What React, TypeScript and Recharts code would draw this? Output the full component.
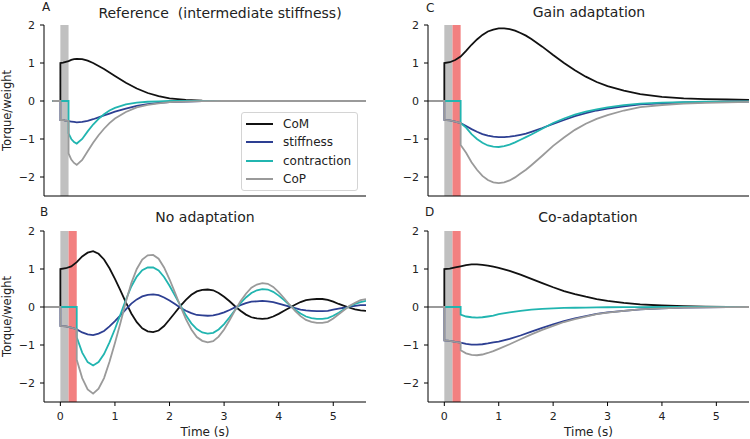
import React from "react";
import { Legend, Line, LineChart, ReferenceArea, XAxis, YAxis } from "recharts";

// time grids (duplicate times = vertical steps)
const tA = [-0.15, 0, 0, 0.05, 0.1, 0.15, 0.15, 0.2, 0.25, 0.3, 0.4, 0.5, 0.6, 0.7, 0.8, 0.9, 1.0, 1.2, 1.4, 1.6, 1.8, 2.0, 2.3, 2.6, 3.0, 4.0, 5.6];
const comA = [0, 0, 1.0, 1.01, 1.03, 1.05, 1.05, 1.08, 1.1, 1.11, 1.1, 1.06, 1.0, 0.92, 0.84, 0.75, 0.66, 0.48, 0.33, 0.21, 0.13, 0.07, 0.03, 0.01, 0, 0, 0];
const stiffA = [0, 0, -0.5, -0.5, -0.52, -0.53, -0.53, -0.54, -0.55, -0.56, -0.55, -0.52, -0.48, -0.43, -0.38, -0.33, -0.28, -0.2, -0.13, -0.08, -0.05, -0.03, -0.015, -0.005, 0, 0, 0];
const contrA = [0, 0, 0, 0, 0, 0, -0.85, -1.0, -1.08, -1.12, -1.0, -0.8, -0.62, -0.47, -0.35, -0.25, -0.18, -0.09, -0.04, -0.02, -0.01, 0, 0, 0, 0, 0, 0];
const copA = [0, 0, -0.5, -0.5, -0.52, -0.53, -1.38, -1.54, -1.63, -1.68, -1.55, -1.32, -1.1, -0.9, -0.73, -0.58, -0.46, -0.29, -0.17, -0.1, -0.06, -0.03, -0.015, -0.005, 0, 0, 0];

const tB = [-0.3, 0, 0, 0.1, 0.2, 0.3, 0.3, 0.4, 0.5, 0.6, 0.7, 0.8, 0.9, 1.0, 1.1, 1.2, 1.3, 1.4, 1.5, 1.6, 1.7, 1.8, 1.9, 2.0, 2.1, 2.2, 2.3, 2.4, 2.5, 2.6, 2.7, 2.8, 2.9, 3.0, 3.1, 3.2, 3.3, 3.4, 3.5, 3.6, 3.7, 3.8, 3.9, 4.0, 4.1, 4.2, 4.3, 4.4, 4.5, 4.6, 4.7, 4.8, 4.9, 5.0, 5.1, 5.2, 5.3, 5.4, 5.5, 5.6];
const comB = [0, 0, 1.0, 1.02, 1.07, 1.18, 1.18, 1.33, 1.43, 1.47, 1.4, 1.25, 1.02, 0.74, 0.44, 0.12, -0.17, -0.4, -0.56, -0.64, -0.66, -0.62, -0.5, -0.33, -0.15, 0.03, 0.19, 0.32, 0.41, 0.45, 0.46, 0.44, 0.37, 0.27, 0.15, 0.02, -0.1, -0.2, -0.27, -0.3, -0.31, -0.3, -0.25, -0.18, -0.1, -0.02, 0.06, 0.13, 0.18, 0.2, 0.21, 0.21, 0.19, 0.14, 0.08, 0.03, -0.02, -0.06, -0.09, -0.1];
const stiffB = [0, 0, -0.5, -0.51, -0.54, -0.59, -0.59, -0.67, -0.72, -0.74, -0.7, -0.63, -0.51, -0.37, -0.22, -0.06, 0.09, 0.2, 0.28, 0.32, 0.33, 0.31, 0.25, 0.17, 0.08, -0.02, -0.1, -0.16, -0.21, -0.22, -0.23, -0.22, -0.19, -0.14, -0.08, -0.01, 0.05, 0.1, 0.14, 0.15, 0.16, 0.15, 0.13, 0.09, 0.05, 0.01, -0.03, -0.07, -0.09, -0.1, -0.11, -0.11, -0.1, -0.07, -0.04, -0.02, 0.01, 0.03, 0.05, 0.05];
const contrB = [0, 0, 0, 0, 0, 0, -0.8, -1.2, -1.45, -1.54, -1.45, -1.24, -0.93, -0.58, -0.2, 0.19, 0.54, 0.8, 0.97, 1.04, 1.04, 0.96, 0.79, 0.56, 0.3, 0.04, -0.22, -0.43, -0.58, -0.67, -0.7, -0.68, -0.59, -0.45, -0.27, -0.08, 0.1, 0.25, 0.37, 0.44, 0.47, 0.46, 0.4, 0.3, 0.18, 0.05, -0.07, -0.17, -0.25, -0.29, -0.31, -0.31, -0.29, -0.23, -0.15, -0.06, 0.02, 0.08, 0.13, 0.16];
const copB = [0, 0, -0.5, -0.51, -0.54, -0.59, -1.39, -1.87, -2.17, -2.28, -2.15, -1.87, -1.44, -0.95, -0.42, 0.13, 0.63, 1.0, 1.25, 1.36, 1.37, 1.27, 1.04, 0.73, 0.38, 0.02, -0.32, -0.59, -0.79, -0.89, -0.93, -0.9, -0.78, -0.59, -0.35, -0.09, 0.15, 0.35, 0.51, 0.59, 0.63, 0.61, 0.53, 0.39, 0.23, 0.06, -0.1, -0.24, -0.34, -0.39, -0.42, -0.42, -0.39, -0.3, -0.19, -0.08, 0.03, 0.11, 0.18, 0.21];

const tC = [-0.3, 0, 0, 0.1, 0.2, 0.3, 0.3, 0.4, 0.5, 0.6, 0.7, 0.8, 0.9, 1.0, 1.1, 1.2, 1.3, 1.4, 1.5, 1.6, 1.8, 2.0, 2.2, 2.4, 2.6, 2.8, 3.0, 3.3, 3.6, 4.0, 4.4, 4.8, 5.2, 5.6];
const comC = [0, 0, 1.0, 1.02, 1.08, 1.17, 1.17, 1.32, 1.48, 1.62, 1.74, 1.83, 1.88, 1.91, 1.91, 1.89, 1.85, 1.79, 1.72, 1.63, 1.43, 1.21, 1.0, 0.81, 0.64, 0.5, 0.39, 0.27, 0.18, 0.11, 0.07, 0.05, 0.04, 0.03];
const stiffC = [0, 0, -0.5, -0.51, -0.54, -0.58, -0.58, -0.66, -0.74, -0.81, -0.87, -0.91, -0.94, -0.95, -0.95, -0.94, -0.92, -0.89, -0.86, -0.81, -0.71, -0.6, -0.5, -0.4, -0.32, -0.25, -0.2, -0.14, -0.09, -0.06, -0.04, -0.03, -0.02, -0.015];
const contrC = [0, 0, 0, 0, 0, 0, -0.58, -0.7, -0.87, -1.0, -1.1, -1.17, -1.2, -1.21, -1.19, -1.15, -1.09, -1.02, -0.95, -0.88, -0.73, -0.58, -0.46, -0.36, -0.28, -0.22, -0.17, -0.11, -0.07, -0.045, -0.03, -0.02, -0.015, -0.01];
const copC = [0, 0, -0.5, -0.51, -0.54, -0.58, -1.16, -1.36, -1.61, -1.81, -1.97, -2.08, -2.14, -2.16, -2.14, -2.09, -2.01, -1.91, -1.81, -1.69, -1.44, -1.18, -0.96, -0.76, -0.6, -0.47, -0.37, -0.25, -0.16, -0.105, -0.07, -0.05, -0.035, -0.025];

const tD = [-0.3, 0, 0, 0.1, 0.2, 0.3, 0.3, 0.4, 0.5, 0.6, 0.7, 0.8, 0.9, 1.0, 1.2, 1.4, 1.6, 1.8, 2.0, 2.2, 2.4, 2.6, 2.8, 3.0, 3.3, 3.6, 4.0, 4.4, 4.8, 5.2, 5.6];
const comD = [0, 0, 1.0, 1.01, 1.04, 1.07, 1.07, 1.1, 1.12, 1.12, 1.11, 1.09, 1.06, 1.03, 0.95, 0.85, 0.74, 0.63, 0.52, 0.42, 0.34, 0.27, 0.21, 0.16, 0.11, 0.07, 0.04, 0.02, 0.01, 0.005, 0];
const stiffD = [0, 0, -0.88, -0.89, -0.92, -0.94, -0.94, -0.97, -0.99, -0.99, -0.98, -0.96, -0.93, -0.91, -0.84, -0.75, -0.65, -0.55, -0.46, -0.37, -0.3, -0.24, -0.18, -0.14, -0.1, -0.06, -0.035, -0.018, -0.009, -0.004, 0];
const contrD = [0, 0, 0, 0, 0, 0, -0.2, -0.25, -0.27, -0.28, -0.27, -0.25, -0.23, -0.19, -0.14, -0.1, -0.07, -0.05, -0.035, -0.025, -0.02, -0.015, -0.01, -0.007, -0.004, -0.002, 0, 0, 0, 0, 0];
const copD = [0, 0, -0.88, -0.89, -0.92, -0.94, -1.14, -1.22, -1.26, -1.27, -1.25, -1.21, -1.16, -1.1, -0.98, -0.85, -0.72, -0.6, -0.495, -0.395, -0.32, -0.255, -0.19, -0.147, -0.104, -0.062, -0.035, -0.018, -0.009, -0.004, 0];

const yTicks = [-2, -1, 0, 1, 2];
const xTicks = [0, 1, 2, 3, 4, 5];

const SERIES = [
  { key: "com", name: "CoM", color: "#111111" },
  { key: "stiffness", name: "stiffness", color: "#2d3f92" },
  { key: "contraction", name: "contraction", color: "#21b5b0" },
  { key: "cop", name: "CoP", color: "#9a9a9a" },
];

const toRows = (t: number[], a: number[], b: number[], c: number[], d: number[]) =>
  t.map((x, i) => ({ t: x, com: a[i], stiffness: b[i], contraction: c[i], cop: d[i] }));

const fmt = (v: number) => (v < 0 ? `\u2212${Math.abs(v)}` : `${v}`);

const FONT = "'DejaVu Sans', sans-serif";
const tickStyle = { fontFamily: FONT, fontSize: 11, fill: "#222" };

// legend keeps the plotting order (recharts sorts the payload by name)
function LegendBox() {
  return (
    <div
      style={{
        border: "1px solid #d4d4d4",
        borderRadius: 3,
        background: "#fff",
        padding: "2px 4px",
        fontFamily: FONT,
        fontSize: 12,
        color: "#222",
        width: 107,
      }}
    >
      {SERIES.map((s) => (
        <div key={s.key} style={{ display: "flex", alignItems: "center", height: 18.3 }}>
          <svg width={27} height={4}>
            <line x1={0} x2={27} y1={2} y2={2} stroke={s.color} strokeWidth={2} />
          </svg>
          <span style={{ marginLeft: 10 }}>{s.name}</span>
        </div>
      ))}
    </div>
  );
}

type PanelProps = {
  left: number;
  top: number;
  width: number;
  height: number;
  margin: { top: number; right: number; bottom: number; left: number };
  rows: any[];
  red: boolean;
  bottom: boolean;
  legend?: boolean;
};

function Panel({ left, top, width, height, margin, rows, red, bottom, legend }: PanelProps) {
  return (
    <div style={{ position: "absolute", left, top }}>
      <LineChart width={width} height={height} data={rows} margin={margin}>
        <ReferenceArea x1={0} x2={0.15} fill="#c0c0c0" fillOpacity={1} stroke="none" />
        {red && <ReferenceArea x1={0.15} x2={0.3} fill="#f28080" fillOpacity={1} stroke="none" />}
        <XAxis
          dataKey="t"
          type="number"
          domain={[-0.3, 5.6]}
          ticks={xTicks}
          allowDataOverflow
          stroke="#000"
          tick={bottom ? tickStyle : false}
          tickLine={bottom}
          tickSize={4}
          tickMargin={6}
          height={bottom ? 37 : 34}
          label={
            bottom
              ? { value: "Time (s)", position: "insideBottom", offset: 3, style: { fontFamily: FONT, fontSize: 12, fill: "#222" } }
              : undefined
          }
        />
        <YAxis
          type="number"
          domain={[-2.5, 2]}
          ticks={yTicks}
          allowDataOverflow
          width={40}
          stroke="#000"
          tick={tickStyle}
          tickSize={4}
          tickMargin={5}
          tickFormatter={fmt}
          label={
            left < 100
              ? {
                  value: "Torque/weight",
                  angle: -90,
                  position: "insideLeft",
                  offset: 3,
                  style: { textAnchor: "middle", fontFamily: FONT, fontSize: 11.5, fill: "#222" },
                }
              : undefined
          }
        />
        {SERIES.map((s) => (
          <Line
            key={s.key}
            dataKey={s.key}
            name={s.name}
            type="linear"
            stroke={s.color}
            strokeWidth={1.8}
            dot={false}
            isAnimationActive={false}
          />
        ))}
        {legend && (
          <Legend
            layout="vertical"
            align="center"
            verticalAlign="middle"
            wrapperStyle={{ left: 241, top: 112, width: 117 }}
            content={<LegendBox />}
          />
        )}
      </LineChart>
    </div>
  );
}

const textAt = (x: number, y: number, size: number, center = true): React.CSSProperties => ({
  position: "absolute",
  left: x,
  top: y - size / 2,
  fontFamily: FONT,
  fontSize: size,
  lineHeight: `${size}px`,
  color: "#222",
  whiteSpace: "pre",
  transform: center ? "translateX(-50%)" : undefined,
});

export default function App() {
  return (
    <div style={{ position: "absolute", left: 0, top: 0, width: 750, height: 439, background: "#fff", overflow: "hidden" }}>
      <Panel left={0} top={0} width={380} height={230} margin={{ top: 25, right: 14, bottom: 0, left: 4 }}
        rows={toRows(tA, comA, stiffA, contrA, copA)} red={false} bottom={false} legend />
      <Panel left={0} top={220} width={380} height={219} margin={{ top: 11, right: 14, bottom: 0, left: 4 }}
        rows={toRows(tB, comB, stiffB, contrB, copB)} red bottom />
      <Panel left={384} top={0} width={366} height={230} margin={{ top: 25, right: 1, bottom: 0, left: 4 }}
        rows={toRows(tC, comC, stiffC, contrC, copC)} red bottom={false} />
      <Panel left={384} top={220} width={366} height={219} margin={{ top: 11, right: 1, bottom: 0, left: 4 }}
        rows={toRows(tD, comD, stiffD, contrD, copD)} red bottom />

      <div style={textAt(42, 7, 12, false)}>A</div>
      <div style={textAt(40, 212, 12, false)}>B</div>
      <div style={textAt(426, 8, 12, false)}>C</div>
      <div style={textAt(425, 212, 12, false)}>D</div>

      <div style={textAt(220, 12.5, 14)}>{"Reference  (intermediate stiffness)"}</div>
      <div style={textAt(205, 217, 14)}>No adaptation</div>
      <div style={textAt(589, 12, 14)}>Gain adaptation</div>
      <div style={textAt(588, 217, 14)}>Co-adaptation</div>
    </div>
  );
}
